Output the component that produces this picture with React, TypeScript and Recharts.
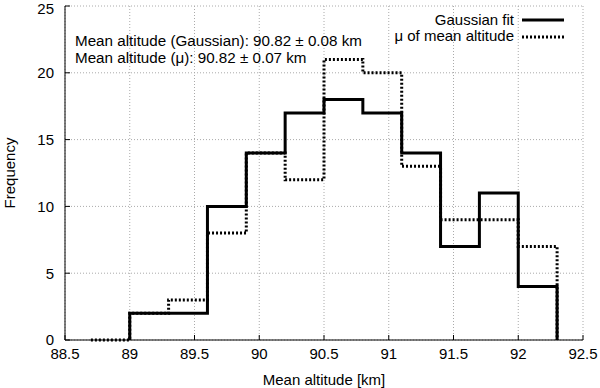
import React from 'react';
import { LineChart, Line, XAxis, YAxis, CartesianGrid } from 'recharts';

// Bin left edges (km) and counts per bin; final entry closes the histogram at 0.
const binEdges = [88.7, 89.0, 89.3, 89.6, 89.9, 90.2, 90.5, 90.8, 91.1, 91.4, 91.7, 92.0, 92.3];
const gaussianCounts = [null, 2, 2, 10, 14, 17, 18, 17, 14, 7, 11, 4, 0];
const muCounts = [0, 2, 3, 8, 14, 12, 21, 20, 13, 9, 9, 7, 0];

const xTicks = [88.5, 89, 89.5, 90, 90.5, 91, 91.5, 92, 92.5];
const yTicks = [0, 5, 10, 15, 20, 25];

const annotationLines = [
  'Mean altitude (Gaussian): 90.82 \u00b1 0.08 km',
  'Mean altitude (\u03bc): 90.82 \u00b1 0.07 km',
];
const seriesNames = ['Gaussian fit', '\u03bc of mean altitude'];

// Solid histogram starts with a rise from zero at its first populated edge.
const gaussianData: { x: number; y: number }[] = [];
binEdges.forEach((e, i) => {
  const v = gaussianCounts[i];
  if (v === null) return;
  if (gaussianData.length === 0) gaussianData.push({ x: e, y: 0 });
  gaussianData.push({ x: e, y: v });
});
const muData = binEdges.map((e, i) => ({ x: e, y: muCounts[i] }));

const FONT = '"Liberation Sans", Arial, Helvetica, sans-serif';

export default function App() {
  return (
    <div style={{ position: 'absolute', left: 0, top: 0, width: 600, height: 388, fontFamily: FONT, background: '#fff' }}>
      <LineChart width={600} height={388} margin={{ top: 6, right: 17, left: 0, bottom: 0 }}>
        <CartesianGrid stroke="#aaa" strokeDasharray="1 2" />
        <XAxis
          type="number"
          dataKey="x"
          domain={[88.5, 92.5]}
          ticks={xTicks}
          allowDataOverflow
          height={48}
          tickSize={-5}
          tickMargin={13}
          tick={{ fontSize: 15, fill: '#000', fontFamily: FONT }}
          stroke="#000"
          tickFormatter={(v: number) => String(v)}
          label={{ value: 'Mean altitude [km]', position: 'insideBottom', offset: 3, fontSize: 15, fill: '#000', fontFamily: FONT }}
        />
        <XAxis
          xAxisId="top"
          orientation="top"
          type="number"
          domain={[88.5, 92.5]}
          ticks={xTicks}
          height={0}
          tick={false}
          tickSize={-5}
          stroke="#000"
        />
        <YAxis
          type="number"
          domain={[0, 25]}
          ticks={yTicks}
          width={65}
          tickSize={-5}
          tickMargin={16}
          tick={{ fontSize: 15, fill: '#000', fontFamily: FONT }}
          stroke="#000"
          label={{ value: 'Frequency', angle: -90, position: 'insideLeft', offset: 10, fontSize: 15, fill: '#000', fontFamily: FONT, style: { textAnchor: 'middle' } }}
        />
        <YAxis
          yAxisId="right"
          orientation="right"
          type="number"
          domain={[0, 25]}
          ticks={yTicks}
          width={0}
          tick={false}
          tickSize={-5}
          stroke="#000"
        />
        <Line
          data={gaussianData}
          dataKey="y"
          type="stepAfter"
          stroke="#000"
          strokeWidth={3}
          dot={false}
          activeDot={false}
          isAnimationActive={false}
          name={seriesNames[0]}
        />
        <Line
          data={muData}
          dataKey="y"
          type="stepAfter"
          stroke="#000"
          strokeWidth={3}
          strokeDasharray="2 2"
          dot={false}
          activeDot={false}
          isAnimationActive={false}
          name={seriesNames[1]}
        />
      </LineChart>
      <svg width={600} height={388} style={{ position: 'absolute', left: 0, top: 0, pointerEvents: 'none' }}>
        <g fontFamily={FONT} fontSize={15.2} fill="#000">
          <text x={75} y={45.7}>{annotationLines[0]}</text>
          <text x={75} y={62.5}>{annotationLines[1]}</text>
        </g>
        <g fontFamily={FONT} fontSize={15} fill="#000">
          <text x={514} y={24.5} textAnchor="end">{seriesNames[0]}</text>
          <text x={514} y={40.5} textAnchor="end">{seriesNames[1]}</text>
        </g>
        <line x1={522} x2={564} y1={20} y2={20} stroke="#000" strokeWidth={3} />
        <line x1={522} x2={564} y1={37} y2={37} stroke="#000" strokeWidth={3} strokeDasharray="2 2" />
      </svg>
    </div>
  );
}
